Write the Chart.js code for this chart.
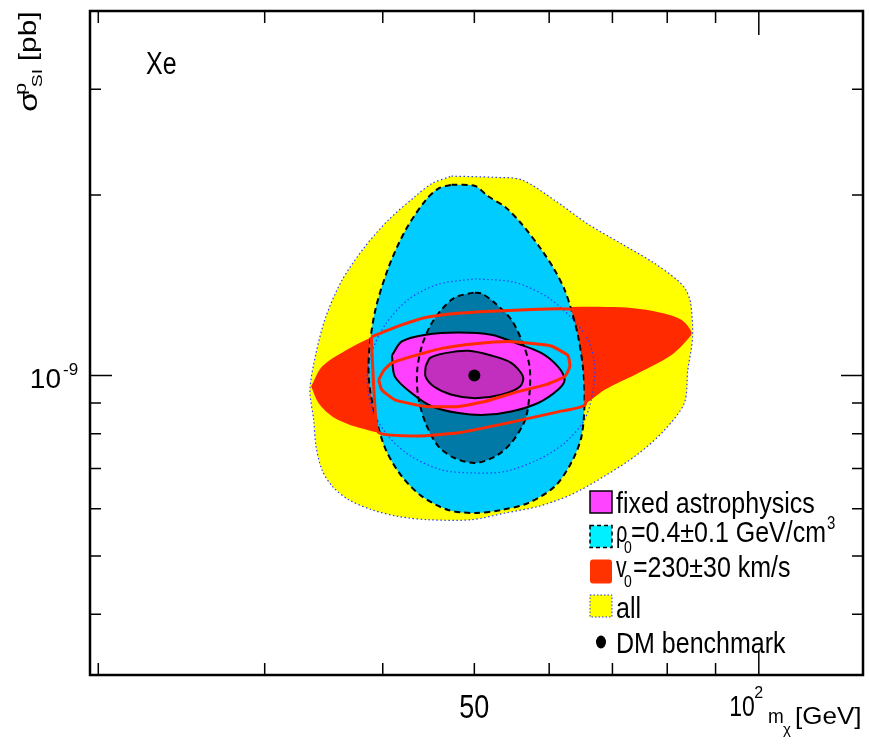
<!DOCTYPE html>
<html>
<head>
<meta charset="utf-8">
<script src="https://cdn.jsdelivr.net/npm/chart.js@4.4.0/dist/chart.umd.min.js"></script>
<style>
  html, body { margin: 0; padding: 0; background: #fff; }
</style>
</head>
<body>
<canvas id="xeChart" width="869" height="752"></canvas>
<script>
// sigma values below are in units of 1e-9 pb, masses in GeV
const SIGMA_UNIT = 1e-9;

// "all" uncertainties, outer (95%) and inner (68%) contours
const allOuterMass = [47.3, 52.6, 56.1, 60.8, 65.9, 71.5, 77.5, 82.1, 83.7, 84.7, 85.1, 84.1, 83.4, 79.4, 74.5, 68.7, 63.3, 58.4, 53.9, 49.7, 44.7, 41.6, 39.0, 36.8, 35.4, 34.5, 34.0, 33.8, 33.5, 34.0, 34.8, 36.2, 38.3, 40.6, 43.3, 45.1];
const allOuterSigma = [2.15, 2.14, 2.12, 1.96, 1.79, 1.66, 1.54, 1.44, 1.39, 1.32, 1.16, 1.02, 0.90, 0.81, 0.74, 0.68, 0.633, 0.605, 0.590, 0.575, 0.575, 0.582, 0.597, 0.621, 0.653, 0.696, 0.762, 0.844, 0.947, 1.09, 1.25, 1.44, 1.64, 1.82, 1.99, 2.09];
const allInnerMass = [50.1, 55.2, 59.8, 63.3, 65.9, 67.0, 66.8, 65.4, 62.3, 58.4, 53.9, 50.1, 46.2, 42.9, 40.6, 39.0, 38.5, 39.0, 40.3, 42.6, 45.8];
const allInnerSigma = [1.45, 1.43, 1.35, 1.25, 1.15, 1.05, 0.947, 0.844, 0.772, 0.724, 0.692, 0.688, 0.696, 0.733, 0.79, 0.877, 0.984, 1.10, 1.22, 1.34, 1.42];

// rho0 = 0.4 +- 0.1
const rho95Mass = [47.3, 50.1, 51.7, 53.9, 56.1, 58.9, 60.8, 62.3, 63.3, 64.4, 65.2, 65.4, 64.9, 63.3, 60.8, 57.0, 53.4, 50.1, 46.9, 44.0, 41.9, 40.3, 39.3, 38.7, 38.7, 39.3, 40.6, 42.3, 44.4, 45.8];
const rho95Sigma = [2.08, 2.07, 1.99, 1.91, 1.79, 1.62, 1.50, 1.39, 1.29, 1.16, 1.02, 0.90, 0.79, 0.715, 0.653, 0.613, 0.597, 0.590, 0.597, 0.629, 0.679, 0.752, 0.854, 0.971, 1.10, 1.29, 1.52, 1.75, 1.96, 2.05];
const rho68Mass = [49.9, 47.7, 46.2, 44.9, 44.0, 43.5, 43.6, 44.4, 45.8, 47.7, 50.1, 52.6, 54.7, 56.6, 57.2, 57.2, 56.3, 54.7, 52.6, 50.9];
const rho68Sigma = [1.375, 1.35, 1.29, 1.21, 1.12, 1.02, 0.923, 0.833, 0.762, 0.728, 0.715, 0.733, 0.772, 0.844, 0.935, 1.035, 1.13, 1.24, 1.32, 1.37];

// v0 = 230 +- 30 km/s
const v0FillMass = [33.6, 34.5, 36.5, 39.0, 42.3, 47.7, 53.9, 60.8, 71.5, 77.5, 82.7, 84.9, 84.1, 80.7, 74.5, 68.7, 64.9, 60.8, 56.1, 51.7, 47.7, 44.0, 40.6, 37.4, 35.4, 34.2];
const v0FillSigma = [0.959, 1.035, 1.10, 1.16, 1.21, 1.25, 1.28, 1.30, 1.30, 1.28, 1.24, 1.18, 1.15, 1.08, 1.009, 0.947, 0.888, 0.854, 0.822, 0.802, 0.791, 0.791, 0.797, 0.822, 0.854, 0.90];
const v0OuterMass = [38.9, 41.6, 44.4, 48.1, 52.1, 58.4, 63.3, 65.2, 65.5, 65.5, 61.3, 54.3, 48.1, 43.6, 39.6, 39.2, 39.0];
const v0OuterSigma = [1.16, 1.21, 1.25, 1.27, 1.28, 1.29, 1.29, 1.24, 1.06, 0.894, 0.870, 0.834, 0.803, 0.793, 0.803, 0.911, 1.06];
const v0InnerMass = [39.6, 40.1, 40.9, 43.3, 46.2, 50.1, 54.3, 57.9, 60.3, 62.8, 63.1, 62.3, 59.4, 55.6, 51.3, 48.1, 44.4, 41.2, 39.9];
const v0InnerSigma = [0.984, 1.02, 1.05, 1.08, 1.11, 1.13, 1.14, 1.13, 1.12, 1.08, 1.035, 0.996, 0.965, 0.940, 0.905, 0.888, 0.888, 0.911, 0.947];

// fixed astrophysics
const fixed95Mass = [40.9, 41.9, 44.4, 48.1, 52.1, 55.6, 58.9, 61.3, 62.3, 61.3, 58.4, 54.7, 51.3, 48.1, 45.1, 42.9, 41.2];
const fixed95Sigma = [1.08, 1.14, 1.17, 1.18, 1.17, 1.13, 1.09, 1.035, 0.984, 0.947, 0.90, 0.871, 0.860, 0.866, 0.888, 0.935, 0.996];
const fixed68Mass = [44.4, 44.9, 46.6, 49.3, 52.1, 54.7, 56.3, 55.9, 53.4, 50.1, 47.3, 45.3, 44.4];
const fixed68Sigma = [1.035, 1.07, 1.09, 1.10, 1.08, 1.05, 0.996, 0.959, 0.929, 0.917, 0.929, 0.959, 0.996];

const benchmarkMass = [50];
const benchmarkSigma = [1.0];

// axes
const massRange = [19.6, 128.9];
const sigmaRange = [0.3168, 4.053];
const massTicks = [20, 30, 40, 50, 60, 70, 80, 90, 100];
const massMajor = [100];
const sigmaTicks = [0.4, 0.5, 0.6, 0.7, 0.8, 0.9, 1, 2, 3];
const sigmaMajor = [1];

const FONT = '"Liberation Sans", Arial, Helvetica, sans-serif';

function closedPoints(mass, sigma) {
    const pts = mass.map((m, i) => ({ x: m, y: sigma[i] * SIGMA_UNIT }));
    pts.push({ x: mass[0], y: sigma[0] * SIGMA_UNIT });
    return pts;
}

function area(mass, sigma, color, order) {
    return {
        data: closedPoints(mass, sigma),
        showLine: true,
        fill: 'shape',
        backgroundColor: color,
        borderWidth: 0,
        pointRadius: 0,
        tension: 0.3,
        order: order
    };
}

function contour(mass, sigma, color, width, dash, order, tension) {
    return {
        data: closedPoints(mass, sigma),
        showLine: true,
        fill: false,
        borderColor: color,
        borderWidth: width,
        borderDash: dash,
        pointRadius: 0,
        tension: tension,
        order: order
    };
}

function drawText(ctx, str, x, y, size, opts = {}) {
    ctx.save();
    ctx.translate(x, y);
    if (opts.rotate) ctx.rotate(opts.rotate);
    ctx.scale(opts.sx || 1, opts.sy || 1);
    ctx.font = size + 'px ' + FONT;
    ctx.textAlign = opts.align || 'left';
    ctx.textBaseline = 'alphabetic';
    ctx.fillStyle = '#000';
    ctx.fillText(str, 0, 0);
    const w = ctx.measureText(str).width * (opts.sx || 1);
    ctx.restore();
    return w;
}

const decorPlugin = {
    id: 'decor',
    afterDraw(chart) {
        const ctx = chart.ctx;
        const { left, right, top, bottom } = chart.chartArea;
        const xs = chart.scales.x;
        const ys = chart.scales.y;

        ctx.save();
        ctx.strokeStyle = '#000';
        ctx.lineWidth = 1.5;
        massTicks.forEach(m => {
            const px = xs.getPixelForValue(m);
            const len = massMajor.includes(m) ? 24 : 12;
            ctx.beginPath();
            ctx.moveTo(px, bottom); ctx.lineTo(px, bottom - len);
            ctx.moveTo(px, top); ctx.lineTo(px, top + len);
            ctx.stroke();
        });
        sigmaTicks.forEach(s => {
            const py = ys.getPixelForValue(s * SIGMA_UNIT);
            const len = sigmaMajor.includes(s) ? 22 : 11;
            ctx.beginPath();
            ctx.moveTo(left, py); ctx.lineTo(left + len, py);
            ctx.moveTo(right, py); ctx.lineTo(right - len, py);
            ctx.stroke();
        });
        ctx.lineWidth = 2.5;
        ctx.strokeRect(left, top, right - left, bottom - top);
        ctx.restore();

        // tick labels
        drawText(ctx, '50', xs.getPixelForValue(50), 718, 27, { align: 'center', sy: 1.2 });
        const p100 = xs.getPixelForValue(100);
        drawText(ctx, '10', p100 - 4, 716, 23, { align: 'right', sy: 1.3 });
        drawText(ctx, '2', p100 - 4.5, 698, 16);
        const p1 = ys.getPixelForValue(1 * SIGMA_UNIT);
        drawText(ctx, '10', 61, p1 + 12.5, 28, { align: 'right' });
        drawText(ctx, '-9', 63, p1 - 1, 17);

        // axis titles
        drawText(ctx, 'm', 768, 723, 21, { sx: 0.9 });
        drawText(ctx, 'χ', 783, 734, 15);
        drawText(ctx, '[GeV]', 795, 724, 26, { sy: 0.95 });

        ctx.save();
        ctx.translate(37, 112);
        ctx.rotate(-Math.PI / 2);
        ctx.scale(1.3, 1);
        drawText(ctx, 'σ', 0, 0, 26);
        drawText(ctx, 'p', 13, -11, 17);
        drawText(ctx, 'SI', 19, 5, 15);
        drawText(ctx, '[pb]', 39, -1, 23);
        ctx.restore();

        drawText(ctx, 'Xe', 146, 74, 25, { sy: 1.24 });

        // legend
        const bx = 590, bw = 22, bh = 22;
        const rows = [502, 536.5, 571.5, 606, 642];
        ctx.save();
        ctx.fillStyle = '#ff44ff';
        ctx.fillRect(bx, rows[0] - bh / 2, bw, bh);
        ctx.strokeStyle = '#000';
        ctx.lineWidth = 1.5;
        ctx.strokeRect(bx, rows[0] - bh / 2, bw, bh);

        ctx.fillStyle = '#00f0ff';
        ctx.fillRect(bx, rows[1] - bh / 2, bw, bh);
        ctx.setLineDash([4, 3]);
        ctx.strokeRect(bx, rows[1] - bh / 2, bw, bh);

        ctx.setLineDash([]);
        ctx.fillStyle = '#ff3300';
        ctx.beginPath();
        ctx.roundRect(bx, rows[2] - bh / 2 - 1, bw, bh + 2, 3);
        ctx.fill();

        ctx.fillStyle = '#ffff00';
        ctx.fillRect(bx, rows[3] - bh / 2, bw, bh);
        ctx.strokeStyle = '#2233ff';
        ctx.lineWidth = 1;
        ctx.setLineDash([1.5, 2]);
        ctx.strokeRect(bx, rows[3] - bh / 2, bw, bh);
        ctx.setLineDash([]);

        ctx.fillStyle = '#000';
        ctx.beginPath();
        ctx.ellipse(bx + 11, rows[4], 5, 6.5, 0, 0, Math.PI * 2);
        ctx.fill();
        ctx.restore();

        const tx = 616, lsy = 1.2;
        drawText(ctx, 'fixed astrophysics', tx, 513, 25, { sy: lsy });
        drawText(ctx, 'ρ', tx, 541.5, 25, { sy: lsy, sx: 0.8 });
        drawText(ctx, '0', 624, 553, 14, { sy: 1.2 });
        const w2 = drawText(ctx, '=0.4±0.1 GeV/cm', 631, 541.5, 25, { sy: lsy });
        drawText(ctx, '3', 631 + w2 + 1, 529, 15, { sy: 1.2 });
        drawText(ctx, 'v', tx, 576.5, 25, { sy: lsy, sx: 0.85 });
        drawText(ctx, '0', 624, 587, 14, { sy: 1.2 });
        drawText(ctx, '=230±30 km/s', 633, 576.5, 25, { sy: lsy });
        drawText(ctx, 'all', tx, 617.5, 25, { sy: lsy });
        drawText(ctx, 'DM benchmark', tx, 652.5, 25, { sy: lsy });
    }
};

const datasets = [
    // filled regions, bottom to top (higher order is drawn first)
    area(allOuterMass, allOuterSigma, '#ffff00', 100),
    area(v0FillMass, v0FillSigma, '#ff2a00', 99),
    area(rho95Mass, rho95Sigma, '#00ccff', 98),
    area(rho68Mass, rho68Sigma, '#0079a6', 97),
    area(fixed95Mass, fixed95Sigma, '#ff40ff', 96),
    area(fixed68Mass, fixed68Sigma, '#c22fbf', 95),
    // contour lines
    contour(allOuterMass, allOuterSigma, '#2a3cff', 1.2, [1.5, 2.5], 90, 0.3),
    contour(allInnerMass, allInnerSigma, '#2a3cff', 1.2, [1.5, 2.5], 89, 0.3),
    contour(rho95Mass, rho95Sigma, '#000', 2, [6, 4], 88, 0.3),
    contour(rho68Mass, rho68Sigma, '#000', 2, [6, 4], 87, 0.3),
    contour(fixed95Mass, fixed95Sigma, '#000', 2, [], 86, 0.3),
    contour(fixed68Mass, fixed68Sigma, '#000', 2, [], 85, 0.3),
    contour(v0OuterMass, v0OuterSigma, '#ff2a00', 3, [], 84, 0.15),
    contour(v0InnerMass, v0InnerSigma, '#ff2a00', 3, [], 83, 0.15),
    {
        data: benchmarkMass.map((m, i) => ({ x: m, y: benchmarkSigma[i] * SIGMA_UNIT })),
        pointRadius: 6,
        pointBackgroundColor: '#000',
        pointBorderWidth: 0,
        order: 0
    }
];

new Chart(document.getElementById('xeChart'), {
    type: 'scatter',
    data: { datasets: datasets },
    options: {
        responsive: false,
        animation: false,
        devicePixelRatio: 1,
        layout: { padding: { left: 90, top: 11, right: 3, bottom: 77 } },
        scales: {
            x: { type: 'logarithmic', min: massRange[0], max: massRange[1], display: false },
            y: { type: 'logarithmic', min: sigmaRange[0] * SIGMA_UNIT, max: sigmaRange[1] * SIGMA_UNIT, display: false }
        },
        plugins: {
            legend: { display: false },
            tooltip: { enabled: false }
        }
    },
    plugins: [decorPlugin]
});
</script>
</body>
</html>
